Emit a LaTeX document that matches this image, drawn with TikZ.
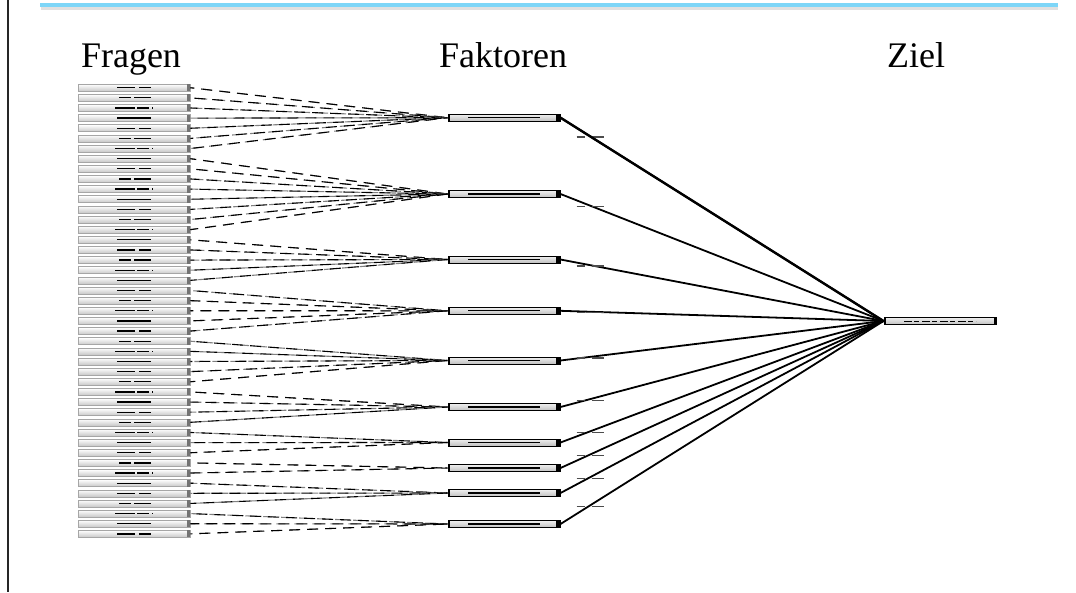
\documentclass[tikz,border=0pt]{standalone}
\usepackage{fontspec}
\setmainfont{Liberation Serif}
\usetikzlibrary{calc}

\tikzset{
  frage/.style={rectangle, draw=black!35, line width=0.6pt, top color=white, bottom color=black!22,
    minimum width=112, minimum height=7, inner sep=0pt},
  faktor/.style={rectangle, draw=black, line width=1pt, top color=black!6, bottom color=black!25,
    minimum width=112, minimum height=7, inner sep=0pt},
  heading/.style={font=\fontsize{36}{36}\selectfont, anchor=base, inner sep=0pt},
  glyphs/.style={line width=1.3pt, black},
  loading/.style={line width=1.1pt, black, dash pattern=on 11pt off 7pt},
  loadinggray/.style={line width=1.1pt, black!50, dash pattern=on 9pt off 9pt},
  pfad/.style={line width=1.8pt, black},
  pfadlabel/.style={line width=1.1pt, black!70}
}

\begin{document}
\begin{tikzpicture}[x=1pt, y=-1pt]
  \useasboundingbox (0,0) rectangle (1076,592);

  % page frame: left rule and blue header bar with a soft shadow
  \draw[line width=1.2pt, black!85] (8,0) -- (8,592);
  \draw[line width=3pt, black!12] (41,8.5) -- (1058,8.5);
  \draw[line width=4pt, color={rgb,255:red,125;green,214;blue,248}] (40,5) -- (1058,5);

  % column headings
  \node[heading] (hFragen)   at (131,67) {Fragen};
  \node[heading] (hFaktoren) at (503,67) {Faktoren};
  \node[heading] (hZiel)     at (916,67) {Ziel};

  % question boxes
  \foreach \i in {1,...,45} {
    \node[frage] (q\i) at (134, {87.7 + (\i-1)*10.14}) {};
    \fill[black!55] ($(q\i.east)+(-3,-3.5)$) rectangle ($(q\i.east)+(0,3.5)$);
  }
  % item labels inside the question boxes
  \foreach \i in {1,...,45} {
    \pgfmathtruncatemacro{\m}{mod(\i,4)}
    \ifcase\m
      \draw[glyphs] ($(q\i.center)+(-17,0)$) -- ++(34,0);
    \or
      \draw[glyphs, dash pattern=on 18pt off 4pt on 14pt off 2pt] ($(q\i.center)+(-17,0)$) -- ++(34,0);
    \or
      \draw[glyphs, dash pattern=on 12pt off 3pt on 19pt off 2pt] ($(q\i.center)+(-15,0)$) -- ++(32,0);
    \or
      \draw[glyphs, dash pattern=on 20pt off 2pt on 12pt off 3pt] ($(q\i.center)+(-19,0)$) -- ++(38,0);
    \fi
  }

  % factor boxes
  \foreach \j/\y in {1/117.7, 2/194, 3/259.5, 4/310.8, 5/360.5, 6/407, 7/442.5, 8/468, 9/493, 10/524} {
    \node[faktor] (f\j) at (504,\y) {};
    \fill[black] ($(f\j.west)+(0,-3.5)$) rectangle ($(f\j.west)+(2,3.5)$);
    \fill[black] ($(f\j.east)+(-5,-4)$) rectangle ($(f\j.east)+(0,4)$);
    \draw[line width=1.2pt, black] ($(f\j.center)+(-36,0)$) -- ++(72,0);
  }

  % goal box
  \node[faktor] (z) at (940,321) {};
  \fill[black] ($(z.west)+(0,-3.5)$) rectangle ($(z.west)+(2,3.5)$);
  \fill[black] ($(z.east)+(-3,-4)$) rectangle ($(z.east)+(0,4)$);
  \draw[line width=1pt, black, dash pattern=on 8pt off 2pt on 5pt off 3pt] ($(z.center)+(-36,0)$) -- ++(72,0);

  % loadings: each question onto its factor
  \foreach \f [count=\i] in {1,1,1,1,1,1,1,2,2,2,2,2,2,2,2,3,3,3,3,3,4,4,4,4,4,5,5,5,5,5,6,6,6,6,7,7,7,8,8,9,9,9,10,10,10} {
    \pgfmathsetmacro{\ph}{mod(\i*7,17)}
    \pgfmathsetmacro{\pg}{mod(\i*5,18)}
    \draw[loadinggray, dash phase=\pg pt] (q\i.east) -- (f\f.west);
    \draw[loading, dash phase=\ph pt] (q\i.east) -- (f\f.west);
  }

  % paths from the factors to the goal, with their coefficient labels
  \foreach \j in {1,...,10} {
    \draw[pfad] (f\j.east) -- (z.west);
    \coordinate (lab\j) at ($(f\j.east)!0.09!(z.west)$);
    \draw[pfadlabel] ($(lab\j)+(-13,1)$) -- ++(8,0);
    \draw[pfadlabel] ($(lab\j)+(2,1)$) -- ++(12,0);
  }
  \draw[line width=2.4pt, black] (f1.east) -- (z.west);
\end{tikzpicture}
\end{document}
